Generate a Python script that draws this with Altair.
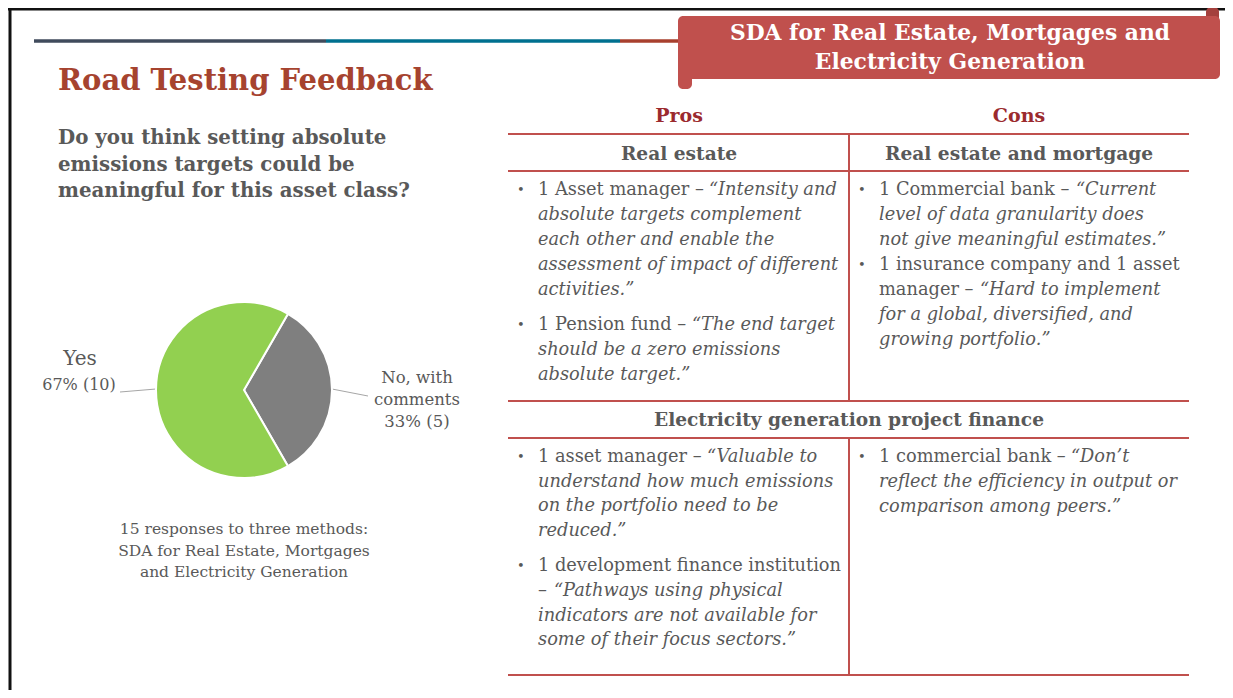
import math
import altair as alt
import pandas as pd

# ---------------- data (content) ----------------
answers = ["No, with comments", "Yes"]
counts = [5, 10]
pie_colors = ["#7f7f7f", "#92d050"]

title_text = "Road Testing Feedback"
question_lines = ["Do you think setting absolute", "emissions targets could be",
                  "meaningful for this asset class?"]
caption_lines = ["15 responses to three methods:", "SDA for Real Estate, Mortgages",
                 "and Electricity Generation"]
yes_label = ["Yes", "67% (10)"]
no_label = ["No, with", "comments", "33% (5)"]
banner_lines = ["SDA for Real Estate, Mortgages and", "Electricity Generation"]
col_heads = ["Pros", "Cons"]
sec1_heads = ["Real estate", "Real estate and mortgage"]
sec2_head = "Electricity generation project finance"

# each line: (normal prefix, italic text)
pros_re = [
    [("1 Asset manager – ", "“Intensity and"), ("", "absolute targets complement"),
     ("", "each other and enable the"), ("", "assessment of impact of different"),
     ("", "activities.”")],
    [("1 Pension fund – ", "“The end target"), ("", "should be a zero emissions"),
     ("", "absolute target.”")],
]
cons_re = [
    [("1 Commercial bank – ", "“Current"), ("", "level of data granularity does"),
     ("", "not give meaningful estimates.”")],
    [("1 insurance company and 1 asset", ""), ("manager – ", "“Hard to implement"),
     ("", "for a global, diversified, and"), ("", "growing portfolio.”")],
]
pros_el = [
    [("1 asset manager – ", "“Valuable to"), ("", "understand how much emissions"),
     ("", "on the portfolio need to be"), ("", "reduced.”")],
    [("1 development finance institution", ""), ("– ", "“Pathways using physical"),
     ("", "indicators are not available for"), ("", "some of their focus sectors.”")],
]
cons_el = [
    [("1 commercial bank – ", "“Don’t"), ("", "reflect the efficiency in output or"),
     ("", "comparison among peers.”")],
]

# ---------------- layout ----------------
W, H = 1217, 682
M = 8  # page margin; layout below written in page pixels
FONT = "DejaVu Serif"
GRAY = "#595959"
RED = "#c0504d"
XS = alt.Scale(domain=[0, W])
YS = alt.Scale(domain=[H, 0])
BODY = 17.8

italic_offset = {"1 Asset manager – ": 171, "1 Pension fund – ": 154,
                 "1 Commercial bank – ": 197, "manager – ": 101,
                 "1 asset manager – ": 169, "– ": 16, "1 commercial bank – ": 192}


def P(x, y):
    return x - M, y - M


def text_layer(rows, **kw):
    df = pd.DataFrame(rows)
    return alt.Chart(df).mark_text(font=FONT, baseline="middle", **kw).encode(
        x=alt.X("x:Q", scale=XS, axis=None),
        y=alt.Y("y:Q", scale=YS, axis=None),
        text="text:N",
        size=alt.Size("size:Q", scale=None),
        color=alt.Color("color:N", scale=None),
    )


def row(text, x, y, size, color=GRAY):
    px, py = P(x, y)
    return {"text": text, "x": px, "y": py, "size": size, "color": color}


# rules
rule_rows = []


def rule(x1, y1, x2, y2, color, w):
    a, b = P(x1, y1)
    c, d = P(x2, y2)
    rule_rows.append({"x": a, "y": b, "x2": c, "y2": d, "color": color, "w": w})


rule(8, 9, 1233, 9, "#111111", 3)
rule(10, 9, 10, 698, "#111111", 3)
rule(34, 41, 326, 41, "#404b5c", 3.5)
rule(326, 41, 620, 41, "#00708f", 3.5)
rule(620, 41, 682, 41, "#a8402e", 3.5)
TL, TM, TR = 508, 849, 1189
for yy in [134, 171, 401, 438, 675]:
    rule(TL, yy, TR, yy, RED, 2)
rule(TM, 134, TM, 401, RED, 2)
rule(TM, 438, TM, 675, RED, 2)
rule(120, 392, 156, 389, "#a6a6a6", 1)
rule(332, 389, 368, 396, "#a6a6a6", 1)

rules = alt.Chart(pd.DataFrame(rule_rows)).mark_rule().encode(
    x=alt.X("x:Q", scale=XS, axis=None), x2="x2:Q",
    y=alt.Y("y:Q", scale=YS, axis=None), y2="y2:Q",
    color=alt.Color("color:N", scale=None),
    strokeWidth=alt.StrokeWidth("w:Q", scale=None),
)

# banner shapes
rect_rows = []


def rect(x1, y1, x2, y2, color):
    a, b = P(x1, y1)
    c, d = P(x2, y2)
    rect_rows.append({"x": a, "y": b, "x2": c, "y2": d, "color": color})


rect(678, 60, 692, 89, RED)
rect(1206, 7, 1219, 24, "#a4403d")
rect(678, 16, 1220, 79, RED)
rects = alt.Chart(pd.DataFrame(rect_rows)).mark_rect(cornerRadius=5).encode(
    x=alt.X("x:Q", scale=XS, axis=None), x2="x2:Q",
    y=alt.Y("y:Q", scale=YS, axis=None), y2="y2:Q",
    color=alt.Color("color:N", scale=None),
)

# pie
pie_df = pd.DataFrame({"answer": answers, "count": counts, "idx": [0, 1]})
cx, cy = P(244, 390)
pie = alt.Chart(pie_df).mark_arc(radius=88, stroke="white", strokeWidth=2).encode(
    theta=alt.Theta("count:Q", stack=True,
                    scale=alt.Scale(range=[math.pi / 6, math.pi / 6 + 2 * math.pi])),
    color=alt.Color("answer:N", scale=alt.Scale(domain=answers, range=pie_colors),
                    legend=None),
    order=alt.Order("idx:Q"),
    x=alt.value(cx),
    y=alt.value(cy),
)

# texts
title_rows = [row(title_text, 58, 81, 29, "#a6432f")]
q_rows = [row(t, 58, 138 + i * 26.5, 19.8) for i, t in enumerate(question_lines)]
cap_rows = [row(t, 244, 529 + i * 21.5, 15.5) for i, t in enumerate(caption_lines)]
pie_lab_rows = [row(yes_label[0], 80, 359, 20), row(yes_label[1], 79, 385, 16)]
pie_lab_rows += [row(t, 417, 378 + i * 22, 16.5) for i, t in enumerate(no_label)]
banner_rows = [row(t, 950, 33 + i * 29, 21.8, "#ffffff") for i, t in enumerate(banner_lines)]
colhead_rows = [row(col_heads[0], 679, 116, 19, "#9b2a2e"), row(col_heads[1], 1019, 116, 19, "#9b2a2e")]
sec_rows = [row(sec1_heads[0], 679, 154, 18.6), row(sec1_heads[1], 1019, 154, 18.6),
            row(sec2_head, 849, 420, 18.6)]

normal_rows, italic_rows, bullet_rows = [], [], []


def bullets(blocks, xb, xt, y0, step, gap):
    y = y0
    for bi, block in enumerate(blocks):
        if bi > 0:
            y += gap - step
        bullet_rows.append(row("•", xb, y, 13))
        for pre, ita in block:
            if pre:
                normal_rows.append(row(pre, xt, y, BODY))
            if ita:
                off = italic_offset.get(pre, 0)
                italic_rows.append(row(ita, xt + off, y, BODY))
            y += step


bullets(pros_re, 517, 538, 190, 25, 35)
bullets(cons_re, 858, 879, 190, 25, 25)
bullets(pros_el, 517, 538, 457, 24.7, 35)
bullets(cons_el, 858, 879, 457, 24.8, 35)

layers = [
    rules, rects, pie,
    text_layer(title_rows, align="left", fontWeight="bold"),
    text_layer(q_rows, align="left", fontWeight="bold"),
    text_layer(cap_rows, align="center"),
    text_layer(pie_lab_rows, align="center"),
    text_layer(banner_rows, align="center", fontWeight="bold"),
    text_layer(colhead_rows + sec_rows, align="center", fontWeight="bold"),
    text_layer(bullet_rows, align="left"),
    text_layer(normal_rows, align="left"),
    text_layer(italic_rows, align="left", fontStyle="italic"),
]

chart = alt.layer(*layers).properties(
    width=W, height=H, padding=0,
    autosize=alt.AutoSizeParams(type="none"),
    background="white",
).configure_view(stroke="transparent")

chart.save("out.html", embed_options={"renderer": "svg", "actions": False})
